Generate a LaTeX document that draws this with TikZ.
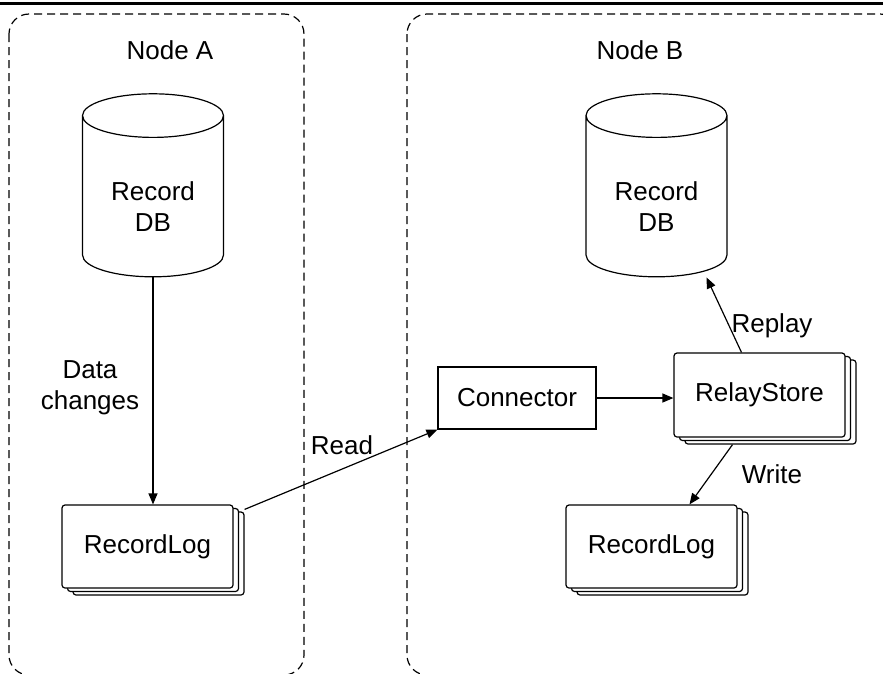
\documentclass[tikz,border=0pt]{standalone}
\usepackage{fontspec}
\setmainfont{Liberation Sans}
\usetikzlibrary{shapes.geometric,shadows,arrows.meta}

\newcommand{\dbtext}[1]{\raisebox{-13pt}[\height][\depth]{\begin{tabular}{@{}c@{}}#1\end{tabular}}}

\begin{document}
\begin{tikzpicture}[x=1pt,y=-1pt,line width=1.2pt,
        every node/.style={font=\fontsize{26}{31}\selectfont},
        zone/.style={dash pattern=on 8pt off 5pt,rounded corners=20pt,line width=1.2pt},
        db/.style={draw,cylinder,shape border rotate=90,aspect=0.52,
            minimum width=141pt,minimum height=183pt,inner sep=0pt},
        logbox/.style={draw,fill=white,rounded corners=3pt,
            minimum width=171pt,minimum height=83pt,
            copy shadow={shadow xshift=11pt,shadow yshift=-7pt},
            copy shadow={shadow xshift=5.5pt,shadow yshift=-3.5pt}},
        arr/.style={-{Triangle[length=11pt,width=9pt]}}]
        \useasboundingbox (0,0) rectangle (883,673);
        \clip (0,0) rectangle (883,673);
        \draw[line width=3pt] (0,3) -- (883,3);
        % the two nodes
        \draw[zone] (9,14) rectangle (304,675);
        \draw[zone] (407,14) rectangle (900,675);
        \node (nA) at (170,50) {Node A};
        \node (nB) at (640,50) {Node B};
        % stores
        \node[db] (dbA) at (153,196.5) {\dbtext{Record\\DB}};
        \node[db] (dbB) at (656.5,196.5) {\dbtext{Record\\DB}};
        \node[logbox] (logA) at (147.5,546.5) {RecordLog};
        \node[logbox] (logB) at (651.5,546.5) {RecordLog};
        \node[draw,minimum width=158pt,minimum height=62pt] (conn) at (517,398) {Connector};
        \node[logbox,minimum height=84pt] (relay) at (759.5,395) {RelayStore};
        % edges
        \draw[arr] (dbA.south) -- (dbA.south |- logA.north);
        \node[align=center] (lData) at (90,388) {Data\\changes};
        \draw[arr] ([shift={(11pt,-5pt)}]logA.north east) -- (conn.south west);
        \node (lRead) at (342,445) {Read};
        \draw[arr] (conn.east) -- (conn.east -| relay.west);
        \draw[arr] ([xshift=-18pt]relay.north) -- ([xshift=50pt]dbB.south);
        \node (lReplay) at (772,326) {Replay};
        \draw[arr] ([shift={(-27pt,-7pt)}]relay.south) -- ([xshift=38pt]logB.north);
        \node (lWrite) at (772,474) {Write};
\end{tikzpicture}
\end{document}
